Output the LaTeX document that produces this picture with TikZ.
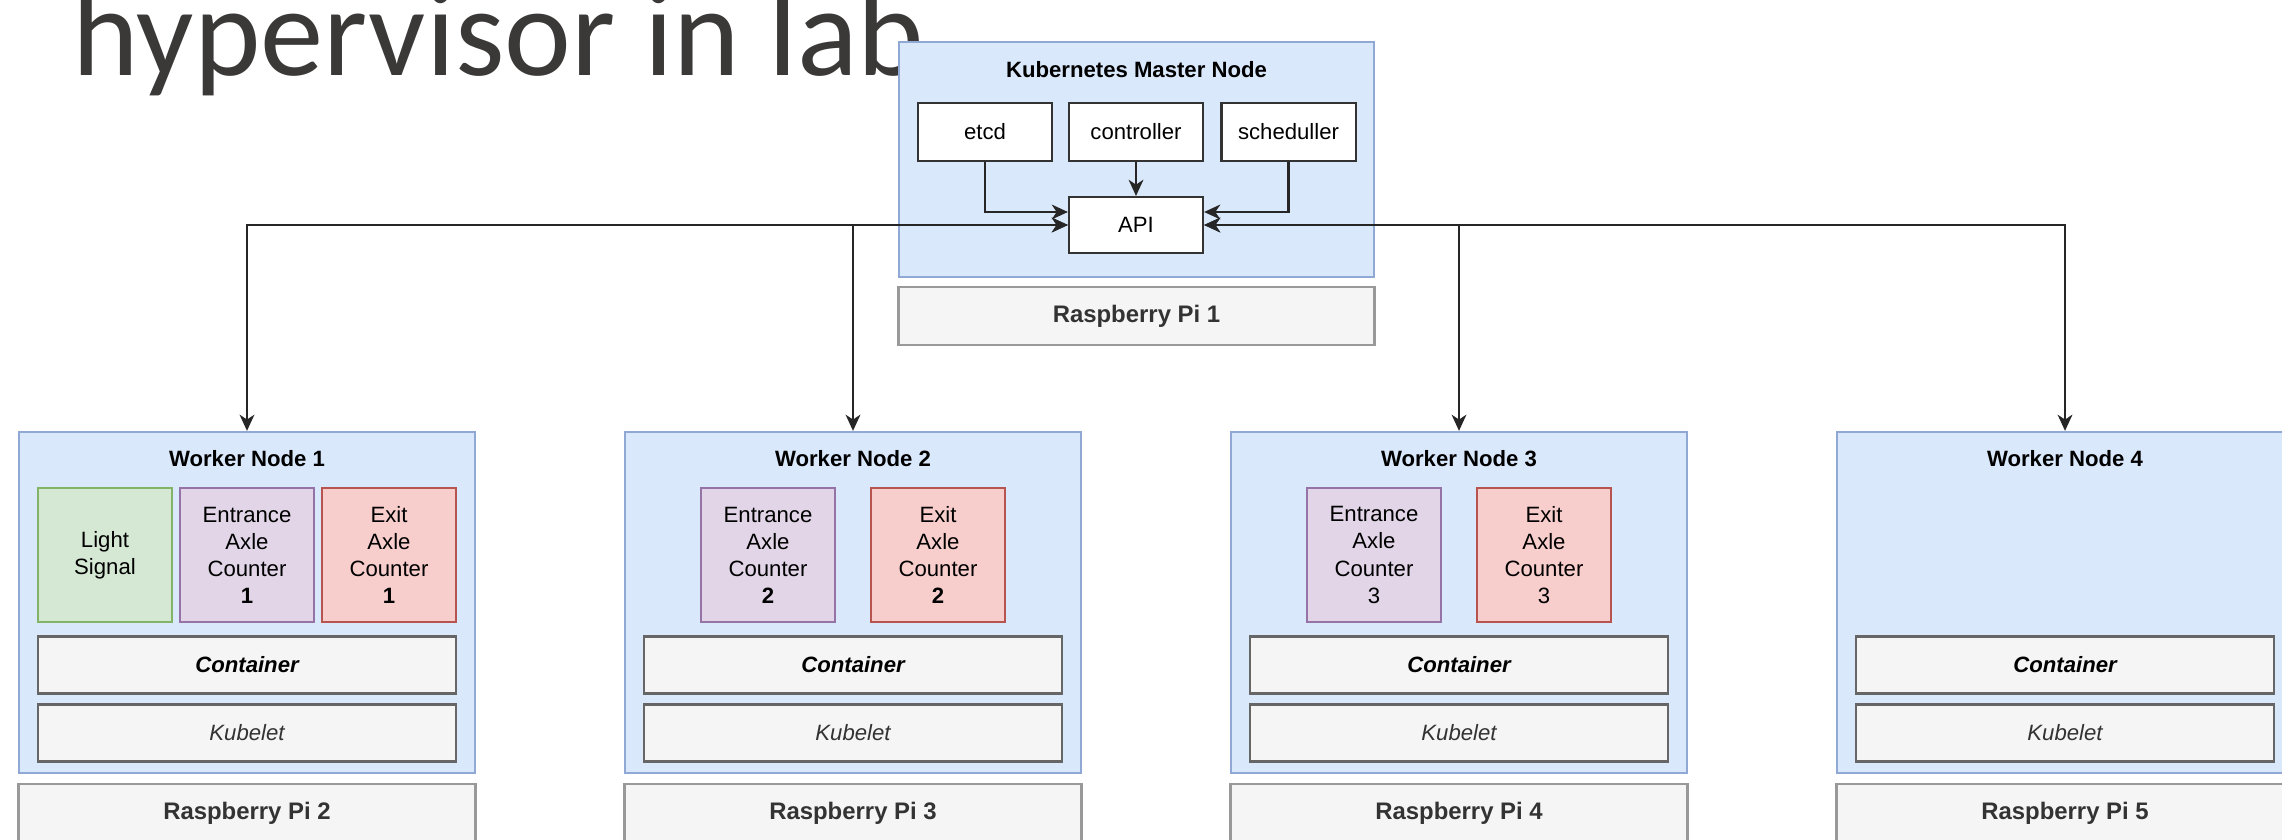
\documentclass[tikz,border=0pt]{standalone}
\usepackage{fontspec}
\setmainfont{Liberation Sans}
\newfontfamily\titlefont{Carlito}
\usetikzlibrary{arrows.meta}
\definecolor{hostfill}{HTML}{DAE8FC}
\definecolor{hostline}{HTML}{8FA9D4}
\definecolor{greenfill}{HTML}{D5E8D4}
\definecolor{greenline}{HTML}{82B366}
\definecolor{purplefill}{HTML}{E1D5E7}
\definecolor{purpleline}{HTML}{9673A6}
\definecolor{redfill}{HTML}{F8CECC}
\definecolor{redline}{HTML}{B85450}
\definecolor{grayfill}{HTML}{F5F5F5}
\definecolor{grayline}{HTML}{666666}
\definecolor{piline}{HTML}{999999}
\definecolor{titlegray}{HTML}{3B3838}

\begin{document}
\begin{tikzpicture}
[
x=0.01cm, y=-0.01cm,
hostbox/.style={rectangle, draw=hostline, fill=hostfill, line width=0.6pt, minimum width=4.56cm, minimum height=3.41cm, inner sep=0},
pibox/.style={rectangle, draw=piline, fill=grayfill, line width=0.8pt, minimum width=4.56cm, minimum height=0.58cm, font=\fontsize{6.8}{8}\selectfont\bfseries, text=black!80},
graybox/.style={rectangle, draw=grayline, fill=grayfill, line width=0.6pt, minimum width=4.18cm, minimum height=0.57cm},
whitebox/.style={rectangle, draw=black!80, fill=white, line width=0.6pt, minimum width=1.34cm, minimum height=0.58cm, font=\fontsize{6.3}{7.5}\selectfont},
appbox/.style={rectangle, line width=0.6pt, minimum width=1.34cm, minimum height=1.34cm, align=center, font=\fontsize{6.3}{7.7}\selectfont},
greenapp/.style={appbox, draw=greenline, fill=greenfill},
purpleapp/.style={appbox, draw=purpleline, fill=purplefill},
redapp/.style={appbox, draw=redline, fill=redfill},
boxtitle/.style={font=\fontsize{6.3}{7.5}\selectfont\bfseries},
conn/.style={draw=black!85, line width=0.6pt, -{Stealth[length=4.6pt,width=4.2pt,inset=1.4pt]}},
biconn/.style={conn, {Stealth[length=4.6pt,width=4.2pt,inset=1.4pt]}-{Stealth[length=4.6pt,width=4.2pt,inset=1.4pt]}}
]
\clip (0,0) rectangle (2282,839);

\node (title) [anchor=base west, inner sep=0, text=titlegray, font=\titlefont\fontsize{36}{40}\selectfont] at (72,75) {hypervisor in lab};

% master
\node (master) [hostbox, minimum width=4.75cm, minimum height=2.35cm] at (1136.5,159.5) {};
\node (mtitle) [boxtitle] at (1136.5,70) {Kubernetes Master Node};
\node (etcd) [whitebox] at (985,132) {etcd};
\node (ctrl) [whitebox] at (1136,132) {controller};
\node (sched) [whitebox] at (1288.5,132) {scheduller};
\node (api) [whitebox, minimum height=0.56cm] at (1136,225) {API};
\node (pi1) [pibox, minimum width=4.75cm] at (1136.5,316) {Raspberry Pi 1};

% workers
\foreach \n/\x/\p in {1/247/2, 2/853/3, 3/1459/4, 4/2065/5} {
  \node (w\n) [hostbox] at (\x,602.5) {};
  \node (wt\n) [boxtitle] at (\x,459) {Worker Node \n};
  \node (cont\n) [graybox, font=\fontsize{6.3}{7.5}\selectfont\bfseries\itshape] at (\x,665) {Container};
  \node (kub\n) [graybox, text=black!80, font=\fontsize{6.3}{7.5}\selectfont\itshape] at (\x,733) {Kubelet};
  \node (pi\p) [pibox] at (\x,813) {Raspberry Pi \p};
}

\node (light1) [greenapp] at (105,555) {Light\\Signal};
\node (ent1) [purpleapp] at (247,555) {Entrance\\Axle\\Counter\\\textbf{1}};
\node (exit1) [redapp] at (389,555) {Exit\\Axle\\Counter\\\textbf{1}};
\node (ent2) [purpleapp] at (768,555) {Entrance\\Axle\\Counter\\\textbf{2}};
\node (exit2) [redapp] at (938,555) {Exit\\Axle\\Counter\\\textbf{2}};
\node (ent3) [purpleapp] at (1374,555) {Entrance\\Axle\\Counter\\3};
\node (exit3) [redapp] at (1544,555) {Exit\\Axle\\Counter\\3};

% links
\draw[conn] (etcd.south) |- ([yshift=0.13cm]api.west);
\draw[conn] (ctrl) -- (api);
\draw[conn] (sched.south) |- ([yshift=0.13cm]api.east);
\draw[biconn] (api.west) -| (w1.north);
\draw[biconn] (api.west) -| (w2.north);
\draw[biconn] (api.east) -| (w3.north);
\draw[biconn] (api.east) -| (w4.north);
\end{tikzpicture}
\end{document}
